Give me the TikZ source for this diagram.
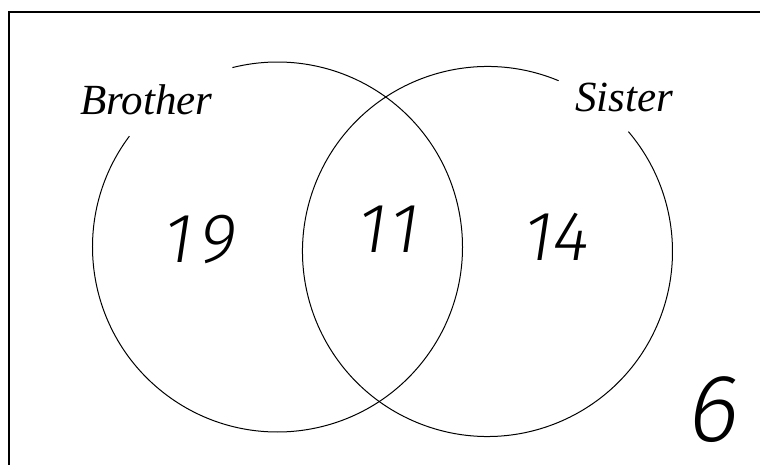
\documentclass[tikz,border=0pt]{standalone}
\usepackage{fontspec}
\setmainfont{Liberation Serif}
\newfontfamily\handfont[FakeSlant=0.15]{Fira Sans Light}
\begin{document}
\begin{tikzpicture}[x=1pt,y=1pt,
  frameline/.style={line width=1.3pt,black},
  vennline/.style={line width=1pt,black},
  setlabel/.style={font=\fontsize{43}{50}\selectfont\itshape,inner sep=0pt,anchor=base west},
  count/.style={font=\handfont\fontsize{70}{78}\selectfont,inner sep=0pt},
  bigcount/.style={font=\handfont\fontsize{96}{104}\selectfont,inner sep=0pt}]
\useasboundingbox (0,0) rectangle (760,465);
\fill[white] (0,0) rectangle (760,465);
% frame
\coordinate (fBL) at (9,0);
\coordinate (fTL) at (9,453);
\coordinate (fTR) at (760,453);
\draw[frameline] (fBL) -- (fTL) -- (fTR);
% circles (with gaps behind the labels)
\coordinate (cL) at (277.5,218);
\coordinate (cR) at (487.5,213.5);
\draw[vennline] ([shift={(143.2:185)}]cL) arc[start angle=143.2,end angle=464.1,radius=185];
\draw[vennline] ([shift={(67.4:185)}]cR) arc[start angle=67.4,end angle=400.4,radius=185];
% labels
\node[setlabel] (brother) at (80,350) {Brother};
\node[setlabel] (sister) at (575,353) {Sister};
% counts
\node[count] (n19) at (198,225) {1\kern0.1em 9};
\node[count] (n11) at (386,236) {1\kern0.05em 1};
\node[count] (n14) at (554,228) {14};
\node[bigcount] (n6) at (711,55) {6};
\end{tikzpicture}
\end{document}
